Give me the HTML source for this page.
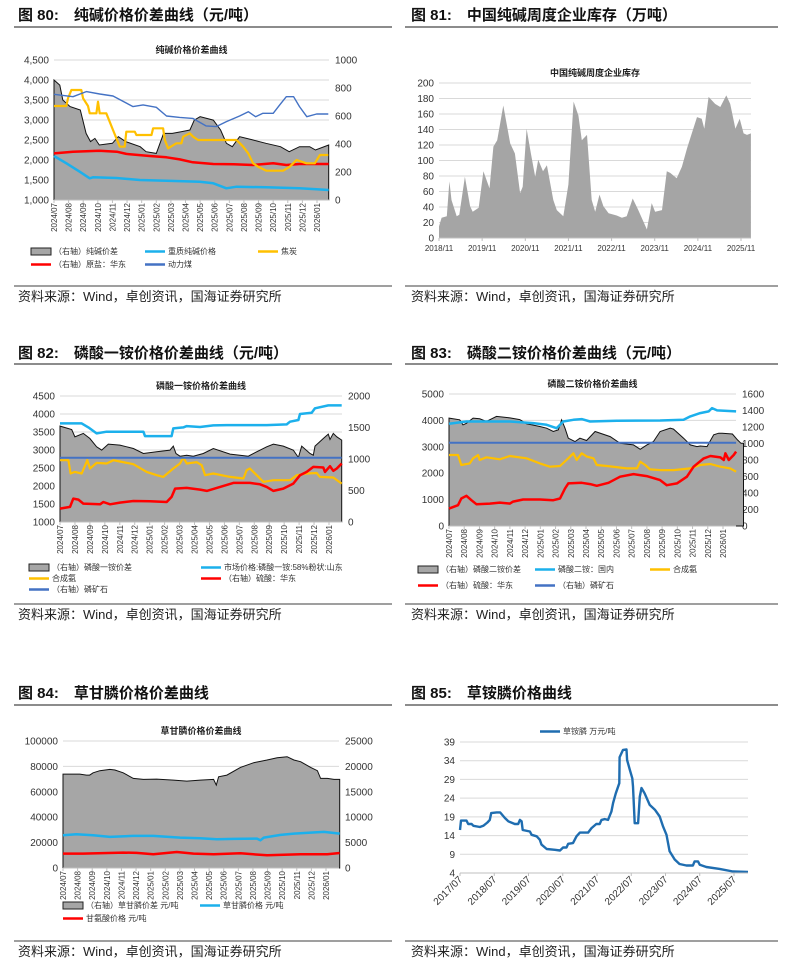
<!DOCTYPE html>
<html><head><meta charset="utf-8">
<style>
html,body{margin:0;padding:0;background:#fff;}
svg{display:block;font-family:"Liberation Sans","Noto Sans CJK SC",sans-serif;}
.hd{font-size:15px;font-weight:bold;fill:#111;}
.src{font-size:13px;fill:#222;}
.ct{font-size:9px;font-weight:bold;fill:#222;}
.tk{font-size:10px;fill:#333;}
.xl{font-size:8px;fill:#333;}
.lg{font-size:8px;fill:#333;}
</style></head>
<body>
<svg id="pg" width="793" height="968" viewBox="0 0 793 968" xmlns="http://www.w3.org/2000/svg">
<g>
<text class="hd" x="18" y="20">图 80:　纯碱价格价差曲线（元/吨）</text>
<line x1="14" y1="27" x2="392" y2="27" stroke="#666" stroke-width="1.5"/>
<text class="hd" x="411" y="20">图 81:　中国纯碱周度企业库存（万吨）</text>
<line x1="405" y1="27" x2="778" y2="27" stroke="#666" stroke-width="1.5"/>
<text class="hd" x="18" y="358">图 82:　磷酸一铵价格价差曲线（元/吨）</text>
<line x1="14" y1="364" x2="392" y2="364" stroke="#666" stroke-width="1.5"/>
<text class="hd" x="411" y="358">图 83:　磷酸二铵价格价差曲线（元/吨）</text>
<line x1="405" y1="364" x2="778" y2="364" stroke="#666" stroke-width="1.5"/>
<text class="hd" x="18" y="698">图 84:　草甘膦价格价差曲线</text>
<line x1="14" y1="705" x2="392" y2="705" stroke="#666" stroke-width="1.5"/>
<text class="hd" x="411" y="698">图 85:　草铵膦价格曲线</text>
<line x1="405" y1="705" x2="778" y2="705" stroke="#666" stroke-width="1.5"/>
</g>
<g>
<line x1="14" y1="286" x2="392" y2="286" stroke="#666" stroke-width="1.2"/>
<line x1="405" y1="286" x2="778" y2="286" stroke="#666" stroke-width="1.2"/>
<text class="src" x="18" y="301">资料来源：Wind，卓创资讯，国海证券研究所</text>
<text class="src" x="411" y="301">资料来源：Wind，卓创资讯，国海证券研究所</text>
<line x1="14" y1="604" x2="392" y2="604" stroke="#666" stroke-width="1.2"/>
<line x1="405" y1="604" x2="778" y2="604" stroke="#666" stroke-width="1.2"/>
<text class="src" x="18" y="619">资料来源：Wind，卓创资讯，国海证券研究所</text>
<text class="src" x="411" y="619">资料来源：Wind，卓创资讯，国海证券研究所</text>
<line x1="14" y1="941" x2="392" y2="941" stroke="#666" stroke-width="1.2"/>
<line x1="405" y1="941" x2="778" y2="941" stroke="#666" stroke-width="1.2"/>
<text class="src" x="18" y="956">资料来源：Wind，卓创资讯，国海证券研究所</text>
<text class="src" x="411" y="956">资料来源：Wind，卓创资讯，国海证券研究所</text>
</g>
</svg>
<script>
// ---------- Fig 80 data (t = months since 2024/07) ----------
const months = ["2024/07","2024/08","2024/09","2024/10","2024/11","2024/12","2025/01","2025/02","2025/03","2025/04","2025/05","2025/06","2025/07","2025/08","2025/09","2025/10","2025/11","2025/12","2026/01"];
const f80SpreadT = [0,0.4,0.6,1.1,1.8,2.2,2.5,2.8,3.1,4.0,4.4,4.9,5.9,6.3,7.0,7.5,8.1,8.7,9.3,9.6,10.0,10.9,11.4,11.8,12.2,12.7,13.6,14.5,15.5,16.1,16.8,17.5,17.9,18.8];
const f80SpreadV = [857,821,714,667,643,476,417,440,393,405,452,417,381,345,333,476,476,488,500,571,595,571,500,405,381,452,429,405,381,345,381,381,357,393];
const f80HeavyT = [0,0.85,1.76,2.44,2.67,4.27,5.87,7.7,9.98,10.9,11.8,12.5,14.5,16.8,17.97,18.8];
const f80HeavyV = [2100,1917,1708,1542,1567,1550,1500,1480,1458,1417,1292,1333,1317,1292,1267,1250];
const f80SaltT = [0,1.3,3.1,4.3,4.95,6.55,7.7,8.6,9.5,10.9,12.3,13.6,15.0,15.9,16.8,18.8];
const f80SaltV = [333,345,352,345,329,314,305,290,269,257,255,250,262,250,257,257];
const f80CokeT = [0,0.84,0.96,1.19,1.87,1.99,2.33,2.44,2.9,3.01,3.13,3.58,4.04,4.27,4.5,4.84,4.95,5.53,5.64,6.67,6.78,7.47,7.58,7.81,8.38,8.72,8.84,9.29,9.52,9.86,12.49,12.72,12.95,13.29,13.63,13.97,14.54,15.68,16.14,16.6,17.28,17.85,18.2,18.77];
const f80CokeV = [3350,3350,3542,3750,3750,3542,3350,3167,3167,3458,3167,3167,2750,2542,2333,2333,2708,2708,2625,2625,2792,2792,2500,2292,2417,2417,2583,2667,2583,2500,2500,2417,2333,2167,1917,1833,1733,1733,1833,2000,1917,1917,2125,2125];
const f80CoalT = [0,1.3,2.21,3.13,4.04,5.41,6.1,7.0,7.7,8.6,9.5,10.4,11.1,11.8,12.7,13.3,13.8,14.3,15.0,15.45,15.9,16.4,16.8,17.3,17.97,18.77];
const f80CoalV = [755,738,774,757,743,667,679,662,600,590,583,529,524,560,600,631,595,619,619,679,738,738,667,595,614,614];
// ---------- Fig 81 data (t = years since 2018/11) ----------
const f81Labels = ["2018/11","2019/11","2020/11","2021/11","2022/11","2023/11","2024/11","2025/11"];
const f81T = [0,0.06,0.18,0.24,0.29,0.41,0.47,0.6,0.72,0.78,0.92,1.03,1.17,1.26,1.35,1.49,1.65,1.76,1.88,1.94,2.03,2.13,2.23,2.3,2.41,2.5,2.65,2.73,2.88,3.0,3.12,3.23,3.31,3.43,3.54,3.62,3.72,3.81,3.93,4.12,4.24,4.35,4.49,4.62,4.82,4.93,5.01,5.17,5.28,5.36,5.51,5.63,5.75,5.86,5.98,6.09,6.15,6.25,6.4,6.52,6.66,6.75,6.87,6.97,7.06,7.14,7.23];
const f81V = [15,26,28,73,49,28,30,79,41,34,39,86,64,118,126,171,122,109,58,66,141,109,79,101,86,94,49,36,28,69,176,158,126,133,49,34,56,41,32,29,26,28,51,36,11,45,34,36,86,84,77,92,116,135,156,154,141,182,173,169,184,173,141,154,135,133,135];
// ---------- Fig 82 data ----------
const f82SpreadT = [0,0.78,1.0,1.56,2.0,2.45,2.79,3.23,4.01,4.46,4.91,5.58,6.47,7.36,7.58,7.76,8.03,8.48,8.92,9.59,10.26,11.38,12.04,12.6,13.16,13.83,14.28,14.94,15.61,15.95,16.17,16.73,16.95,17.06,17.62,17.95,18.07,18.29,18.52,18.85];
const f82SpreadV = [1522,1469,1353,1406,1326,1194,1141,1236,1220,1194,1167,1088,1114,1141,1204,1088,1045,1060,1045,1088,1167,1077,1061,1045,1114,1194,1236,1204,1141,1024,1204,1088,1061,1204,1326,1395,1310,1406,1353,1300];
const f82MktT = [0,1.45,1.9,2.45,3.12,5.58,5.69,7.47,7.58,8.25,8.48,9.37,10.26,11.15,13.16,13.83,15.17,15.39,15.95,16.06,16.84,17.06,17.95,18.85];
const f82MktV = [3739,3739,3627,3460,3507,3507,3386,3386,3600,3627,3665,3640,3683,3692,3692,3692,3711,3785,3832,3999,4036,4157,4240,4240];
const f82NH3T = [0,0.56,0.71,1.0,1.45,1.83,2.01,2.45,3.12,3.57,4.01,4.91,5.8,6.47,6.91,7.58,8.03,8.25,8.48,9.15,9.48,9.71,10.26,11.38,12.27,12.49,12.71,13.16,13.61,14.28,14.94,15.39,15.84,16.51,17.18,17.4,18.29,18.85];
const f82NH3V = [2717,2717,2346,2393,2346,2717,2485,2643,2625,2717,2680,2606,2393,2300,2253,2485,2625,2792,2625,2660,2578,2300,2346,2253,2207,2439,2485,2300,2114,2160,2160,2160,2300,2346,2360,2253,2235,2068];
const f82AcidT = [0,0.67,0.89,1.23,1.56,2.68,2.9,3.35,4.01,4.91,6.02,7.14,7.47,7.7,8.48,9.37,9.82,10.71,11.6,12.71,13.38,13.83,14.28,14.94,15.61,16.06,16.51,16.95,17.62,17.73,18.07,18.29,18.52,18.85];
const f82AcidV = [212,239,371,355,292,281,318,281,308,334,329,318,398,530,541,515,493,557,621,621,599,557,493,530,610,743,796,875,865,796,886,812,849,928];
const f82RockT = [0,18.85];
const f82RockV = [1020,1020];
// ---------- Fig 83 data ----------
const f83SpreadT = [0,0.7,0.92,1.14,1.58,2.02,2.46,3.12,4.0,4.65,5.09,5.97,6.41,6.85,7.18,7.4,7.62,7.84,8.28,8.6,9.04,9.6,10.59,11.24,12.12,12.56,13.0,13.43,13.87,14.53,14.75,15.41,15.85,16.29,16.5,16.95,17.39,17.72,17.95,18.62,18.95,19.18,19.35];
const f83SpreadV = [1308,1287,1226,1245,1308,1300,1267,1328,1310,1290,1239,1206,1186,1145,1165,1287,1186,1064,1023,1064,1036,1145,1084,1003,983,930,983,1023,1145,1186,1175,1064,983,962,970,962,1105,1125,1125,1115,1044,1003,1003];
const f83DomT = [0,1.14,4.0,5.53,6.41,7.07,7.5,8.17,8.72,9.27,11.02,13.87,15.41,15.85,16.5,17.06,17.28,17.61,18.86];
const f83DomV = [3870,3959,3959,3896,3832,3705,3959,4022,4048,3959,3985,3997,4022,4150,4276,4340,4467,4378,4340];
const f83NH3T = [0,0.59,0.81,1.36,1.58,1.91,2.02,2.46,3.34,3.99,5.09,5.97,6.63,7.29,7.72,8.17,8.39,8.72,9.05,9.49,9.71,10.37,11.68,12.35,12.56,12.89,13.21,13.87,14.31,14.75,15.85,16.5,17.17,17.83,18.48,18.86];
const f83NH3V = [2690,2690,2310,2373,2563,2690,2500,2601,2525,2652,2563,2373,2246,2272,2500,2754,2500,2754,2627,2563,2310,2272,2183,2183,2437,2310,2145,2119,2119,2119,2183,2310,2348,2246,2183,2056];
const f83AcidT = [0,0.59,0.81,1.14,1.47,1.8,2.68,3.34,4.0,4.21,4.87,5.97,6.85,7.29,7.62,7.84,8.72,9.27,9.71,10.48,11.24,12.12,12.99,13.87,14.31,14.97,15.63,16.07,16.73,17.17,17.83,18.05,18.16,18.38,18.7,18.86];
const f83AcidV = [211,252,333,366,313,264,272,284,272,296,321,321,313,333,455,516,524,508,487,524,597,629,605,556,495,516,597,719,820,849,832,800,881,800,861,902];
const f83RockT = [0,18.86];
const f83RockV = [1010,1010];
// ---------- Fig 84 data ----------
const f84SpreadT = [0,1.15,1.6,1.83,2.06,2.52,3.21,3.55,4.12,4.81,5.5,6.41,7.56,8.47,9.39,10.31,10.49,10.65,11.22,12.14,13.05,13.97,14.66,15.34,15.8,16.26,16.95,17.41,17.63,18.09,18.55,18.94];
const f84SpreadV = [18487,18487,18290,18290,18750,19145,19408,19300,18750,17632,17434,17500,17303,17105,17303,17434,16316,17961,18290,19803,20724,21250,21711,21908,21250,20921,19803,19145,17632,17632,17434,17434];
const f84GlyT = [0,0.92,2.06,3.21,4.81,6.18,8.01,9.39,10.53,11.68,13.28,13.51,13.74,14.89,15.8,16.95,17.86,18.94];
const f84GlyV = [25794,26583,25794,24478,25268,25268,23951,23425,22635,22898,23162,21846,23951,26057,27110,27900,28426,27110];
const f84AminoT = [0,1.37,4.12,5.04,6.18,7.79,8.93,10.31,12.14,13.97,16.26,18.09,18.94];
const f84AminoV = [11318,11318,12107,11900,10791,12634,11318,10791,11581,10002,10791,10791,11844];
// ---------- Fig 85 data (t = years since 2017/07) ----------
const f85Labels = ["2017/07","2018/07","2019/07","2020/07","2021/07","2022/07","2023/07","2024/07","2025/07"];
const f85T = [0,0.03,0.19,0.24,0.34,0.39,0.58,0.68,0.8,0.87,0.91,1.07,1.17,1.21,1.31,1.41,1.6,1.7,1.75,1.8,1.83,2.04,2.09,2.24,2.33,2.38,2.53,2.77,2.92,3.01,3.11,3.16,3.3,3.4,3.5,3.74,3.84,3.98,4.08,4.13,4.23,4.32,4.42,4.47,4.55,4.65,4.66,4.76,4.86,4.88,4.96,5.03,5.05,5.1,5.2,5.25,5.3,5.39,5.54,5.69,5.83,5.93,6.03,6.12,6.27,6.41,6.61,6.8,6.85,6.95,7.0,7.19,7.58,7.97,8.41];
const f85V = [15.5,18,18,17.1,17.1,16.6,16.3,16.6,17.5,18.2,20,20.2,20.2,19.8,18.7,17.8,17.1,17.1,18.2,17.8,15.5,15.1,14.2,13.8,12.9,11.6,10.4,10.2,10.0,10.8,10.8,11.8,12.0,13.8,14.8,14.8,16,17.1,17.1,18.2,18.4,18.2,20.4,22.7,25.3,28,34.9,36.9,37,34.2,31.5,29.3,27.1,17.3,17.3,24.4,26.7,25.3,22.2,20.9,19.1,16.4,14.2,9.8,7.6,6.4,6,6,7.1,7.1,6.2,5.6,5.1,4.4,4.3];

const NS="http://www.w3.org/2000/svg";
const pg=document.getElementById('pg');
function mk(tag,attrs,parent,txt){const e=document.createElementNS(NS,tag);for(const k in attrs)e.setAttribute(k,attrs[k]);if(txt!==undefined)e.textContent=txt;(parent||pg).appendChild(e);return e;}
function scale(d0,d1,r0,r1){return v=>r0+(v-d0)*(r1-r0)/(d1-d0);}
function pts(T,V,sx,sy){return T.map((t,i)=>sx(t).toFixed(1)+','+sy(V[i]).toFixed(1)).join(' ');}

function chart(c){
  const g=mk('g',{});
  
  
  const sx=scale(0,c.tRef,c.x0,c.xRef);
  const sy=scale(c.lMin,c.lMax,c.yBot,c.yTop);
  const sr=c.rMax!==undefined?scale(0,c.rMax,c.yBot,c.yTop):null;
  // gridlines + left ticks
  for(let v=c.lMin;v<=c.lMax+1e-9;v+=c.lStep){
    const y=sy(v);
    if(v>c.lMin){const gl=mk('line',{x1:c.x0,x2:c.x1,y1:y,y2:y,stroke:'#d9d9d9','stroke-width':1},g);
      
      }
    const lab=c.comma?v.toLocaleString('en-US'):String(v);
    const t=mk('text',{x:c.x0-5,y:y+3.5,'text-anchor':'end',class:'tk'},g,lab);
    
    
  }
  if(sr){for(let v=0;v<=c.rMax+1e-9;v+=c.rStep){
    const t=mk('text',{x:c.x1+6,y:sr(v)+3.5,class:'tk'},g,String(v));
    
    }}
  // series
  c.series.forEach(s=>{
    const yf=s.axis==='r'?sr:sy;
    if(s.area){
      const p='M'+sx(s.T[0]).toFixed(1)+','+c.yBot+' L'+pts(s.T,s.V,sx,yf)+' L'+sx(s.T[s.T.length-1]).toFixed(1)+','+c.yBot+' Z';
      const a=mk('path',{d:p,fill:s.color,stroke:s.stroke||'none','stroke-width':1},g);
      
      
    } else {
      const l=mk('polyline',{points:pts(s.T,s.V,sx,yf),fill:'none',stroke:s.color,'stroke-width':s.w||2.2,'stroke-linejoin':'round'},g);
      
      
    }
  });
  // x axis line
  const ax=mk('line',{x1:c.x0,x2:c.x1,y1:c.yBot,y2:c.yBot,stroke:'#bfbfbf','stroke-width':1},g);
  
  
  // x labels
  c.xLabels.forEach((lab,i)=>{
    const x=sx(i*c.xStep);
    mk('line',{x1:x,x2:x,y1:c.yBot,y2:c.yBot+3,stroke:'#bfbfbf'},g);
    let t;
    if(c.xMode==='v') t=mk('text',{x:0,y:0,class:'xl','text-anchor':'end',transform:`translate(${x+3},${c.yBot+3}) rotate(-90)`},g,lab);
    else if(c.xMode==='d') t=mk('text',{x:0,y:0,class:'tk','text-anchor':'end',transform:`translate(${x+3},${c.yBot+7}) rotate(-45)`},g,lab);
    else t=mk('text',{x:x,y:c.yBot+13,class:'xl','text-anchor':'middle'},g,lab);
    
    
  });
  // title
  if(c.title){const t=mk('text',{x:(c.x0+c.x1)/2,y:c.yTop-7,class:'ct','text-anchor':'middle'},g,c.title);
    
    }
  // legend
  (c.legend||[]).forEach(L=>{
    const lg=mk('g',{},g);
    
    
    if(L.box) mk('rect',{x:L.x,y:L.y-3,width:20,height:7,fill:'#a6a6a6',stroke:'#222','stroke-width':1},lg);
    else mk('line',{x1:L.x,x2:L.x+20,y1:L.y+0.5,y2:L.y+0.5,stroke:L.color,'stroke-width':2.5},lg);
    mk('text',{x:L.x+23,y:L.y+3,class:'lg'},lg,L.text);
  });
}
const GRAY='#a6a6a6',LB='#1cb0ec',OR='#ffc000',RD='#ff0000',DB='#4472c4';
chart({name:'fig80-chart',title:'纯碱价格价差曲线',x0:54,x1:329,xRef:317,tRef:18,yTop:60,yBot:200,lMin:1000,lMax:4500,lStep:500,comma:true,rMax:1000,rStep:200,
 xLabels:months,xStep:1,xMode:'v',
 series:[{name:'spread-area',area:1,axis:'r',T:f80SpreadT,V:f80SpreadV,color:GRAY,stroke:'#111'},
  {name:'heavy-soda-line',axis:'l',T:f80HeavyT,V:f80HeavyV,color:LB,w:2.5},
  {name:'salt-line',axis:'r',T:f80SaltT,V:f80SaltV,color:RD,w:2.5},
  {name:'coke-line',axis:'l',T:f80CokeT,V:f80CokeV,color:OR,w:2.2},
  {name:'thermal-coal-line',axis:'r',T:f80CoalT,V:f80CoalV,color:DB,w:1.4}],
 legend:[{box:1,x:31,y:251,text:'（右轴）纯碱价差'},{x:145,y:251,color:LB,text:'重质纯碱价格'},{x:258,y:251,color:OR,text:'焦炭'},
  {x:31,y:264,color:RD,text:'（右轴）原盐：华东'},{x:145,y:264,color:DB,text:'动力煤'}]});
chart({name:'fig81-chart',title:'中国纯碱周度企业库存',x0:439,x1:751,xRef:741,tRef:7,yTop:83,yBot:238,lMin:0,lMax:200,lStep:20,
 xLabels:f81Labels,xStep:1,xMode:'h',
 series:[{name:'inventory-area',area:1,axis:'l',T:f81T,V:f81V,color:'#a5a5a5'}]});
chart({name:'fig82-chart',title:'磷酸一铵价格价差曲线',x0:60,x1:342,xRef:329,tRef:18,yTop:396,yBot:522,lMin:1000,lMax:4500,lStep:500,rMax:2000,rStep:500,
 xLabels:months,xStep:1,xMode:'v',
 series:[{name:'map-spread-area',area:1,axis:'r',T:f82SpreadT,V:f82SpreadV,color:GRAY,stroke:'#111'},
  {name:'map-market-price-line',axis:'l',T:f82MktT,V:f82MktV,color:LB,w:2.5},
  {name:'ammonia-line',axis:'l',T:f82NH3T,V:f82NH3V,color:OR,w:2.2},
  {name:'sulfuric-acid-line',axis:'r',T:f82AcidT,V:f82AcidV,color:RD,w:2.5},
  {name:'phosphate-rock-line',axis:'r',T:f82RockT,V:f82RockV,color:DB,w:2}],
 legend:[{box:1,x:29,y:567,text:'（右轴）磷酸一铵价差'},{x:201,y:567,color:LB,text:'市场价格:磷酸一铵:58%粉状:山东'},
  {x:29,y:578,color:OR,text:'合成氨'},{x:201,y:578,color:RD,text:'（右轴）硫酸：华东'},{x:29,y:589,color:DB,text:'（右轴）磷矿石'}]});
chart({name:'fig83-chart',title:'磷酸二铵价格价差曲线',x0:449,x1:736,xRef:723,tRef:18,yTop:394,yBot:526,lMin:0,lMax:5000,lStep:1000,rMax:1600,rStep:200,
 xLabels:months,xStep:1,xMode:'v',
 series:[{name:'dap-spread-area',area:1,axis:'r',T:f83SpreadT,V:f83SpreadV,color:GRAY,stroke:'#111'},
  {name:'dap-domestic-line',axis:'l',T:f83DomT,V:f83DomV,color:LB,w:2.5},
  {name:'ammonia-line',axis:'l',T:f83NH3T,V:f83NH3V,color:OR,w:2.2},
  {name:'sulfuric-acid-line',axis:'r',T:f83AcidT,V:f83AcidV,color:RD,w:2.5},
  {name:'phosphate-rock-line',axis:'r',T:f83RockT,V:f83RockV,color:DB,w:2}],
 legend:[{box:1,x:418,y:569,text:'（右轴）磷酸二铵价差'},{x:535,y:569,color:LB,text:'磷酸二铵：国内'},{x:650,y:569,color:OR,text:'合成氨'},
  {x:418,y:585,color:RD,text:'（右轴）硫酸：华东'},{x:535,y:585,color:DB,text:'（右轴）磷矿石'}]});
chart({name:'fig84-chart',title:'草甘膦价格价差曲线',x0:63,x1:339,xRef:326,tRef:18,yTop:741,yBot:868,lMin:0,lMax:100000,lStep:20000,rMax:25000,rStep:5000,
 xLabels:months,xStep:1,xMode:'v',
 series:[{name:'glyphosate-spread-area',area:1,axis:'r',T:f84SpreadT,V:f84SpreadV,color:GRAY,stroke:'#111'},
  {name:'glyphosate-price-line',axis:'l',T:f84GlyT,V:f84GlyV,color:LB,w:2.5},
  {name:'glycine-price-line',axis:'l',T:f84AminoT,V:f84AminoV,color:RD,w:2.5}],
 legend:[{box:1,x:63,y:905,text:'（右轴）草甘膦价差 元/吨'},{x:200,y:905,color:LB,text:'草甘膦价格 元/吨'},{x:63,y:918,color:RD,text:'甘氨酸价格 元/吨'}]});
chart({name:'fig85-chart',x0:460,x1:748,xRef:734,tRef:8,yTop:742,yBot:873,lMin:4,lMax:39,lStep:5,
 xLabels:f85Labels,xStep:1,xMode:'d',
 series:[{name:'glufosinate-price-line',axis:'l',T:f85T,V:f85V,color:'#1f6db0',w:2.4}],
 legend:[{x:540,y:731,color:'#1f6db0',text:'草铵膦 万元/吨'}]});
</script>
</body></html>
